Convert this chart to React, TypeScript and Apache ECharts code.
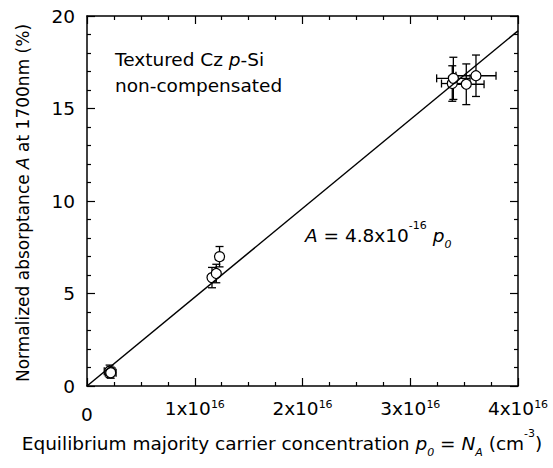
import React, { useEffect, useRef } from 'react';
import * as echarts from 'echarts';

// Equilibrium majority carrier concentration p0 (units of 1e16 cm^-3)
const pValues = [0.21, 0.22, 1.16, 1.2, 1.23, 3.39, 3.4, 3.52, 3.61];
// Normalized absorptance A at 1700 nm (%)
const aValues = [0.8, 0.72, 5.86, 6.08, 6.99, 16.35, 16.63, 16.31, 16.77];
const pErrors = [0.05, 0.05, 0.03, 0.03, 0.03, 0.1, 0.155, 0.165, 0.186];
const aErrors = [0.33, 0.3, 0.55, 0.5, 0.55, 0.96, 1.14, 1.1, 1.12];
// Linear fit A = 4.8e-16 * p0
const fitP = [0, 4];
const fitA = [0, 19.2];
const xTicks = [0, 1, 2, 3, 4];
const xExponent = '16';
const yTicks = [0, 5, 10, 15, 20];

const FONT = 'DejaVu Sans';
const FS = 18.5;

export default function App() {
  const ref = useRef<HTMLDivElement>(null);
  useEffect(() => {
    if (!ref.current) return;
    const chart = echarts.init(ref.current, null, { renderer: 'svg' });
    const points = pValues.map((p, i) => [p, aValues[i]]);
    const errData = pValues.map((p, i) => [p, aValues[i], pErrors[i], aErrors[i]]);
    const axisLine = { show: true, onZero: false, lineStyle: { color: '#000', width: 1.5 } };
    const common = {
      axisLine,
      splitLine: { show: false },
    };
    const xBase = {
      type: 'value',
      min: xTicks[0],
      max: xTicks[xTicks.length - 1],
      interval: 1,
      ...common,
      axisTick: { show: true, inside: true, length: 8, lineStyle: { color: '#000', width: 1.2 } },
      minorTick: { show: true, splitNumber: 4, length: 4, lineStyle: { color: '#000', width: 1.2 } },
      minorSplitLine: { show: false },
    };
    const yBase = {
      type: 'value',
      min: yTicks[0],
      max: yTicks[yTicks.length - 1],
      interval: 5,
      ...common,
      axisTick: { show: true, inside: true, length: 8, lineStyle: { color: '#000', width: 1.2 } },
      minorTick: { show: true, splitNumber: 5, length: 4, lineStyle: { color: '#000', width: 1.2 } },
      minorSplitLine: { show: false },
    };
    chart.setOption({
      animation: false,
      grid: { left: 87, top: 16, width: 431, height: 370, containLabel: false },
      xAxis: [
        {
          ...xBase,
          position: 'bottom',
          axisLabel: {
            show: true,
            margin: 13,
            color: '#000',
            fontFamily: FONT,
            fontSize: FS,
            formatter: (v: number) => (v === 0 ? '{z|0}' : `{b|${v}x10}{s|${xExponent}}`),
            rich: {
              z: { fontFamily: FONT, fontSize: FS, lineHeight: 30, color: '#000' },
              b: { fontFamily: FONT, fontSize: FS, lineHeight: 17, verticalAlign: 'top', color: '#000' },
              s: { fontFamily: FONT, fontSize: 11, lineHeight: 6, verticalAlign: 'top', color: '#000' },
            },
          },
        },
        { ...xBase, position: 'top', axisLabel: { show: false } },
      ],
      yAxis: [
        {
          ...yBase,
          position: 'left',
          axisLabel: { show: true, margin: 12, color: '#000', fontFamily: FONT, fontSize: FS },
        },
        { ...yBase, position: 'right', axisLabel: { show: false } },
      ],
      series: [
        {
          type: 'custom',
          xAxisIndex: 0,
          yAxisIndex: 0,
          z: 2,
          data: errData,
          encode: { x: 0, y: 1 },
          renderItem: (params: any, api: any) => {
            const x = api.value(0);
            const y = api.value(1);
            const ex = api.value(2);
            const ey = api.value(3);
            const top = api.coord([x, y + ey]);
            const bot = api.coord([x, y - ey]);
            const left = api.coord([x - ex, y]);
            const right = api.coord([x + ex, y]);
            const c = 4;
            const style = { stroke: '#000', lineWidth: 1.3, fill: 'none' };
            const ln = (x1: number, y1: number, x2: number, y2: number) => ({
              type: 'line',
              shape: { x1, y1, x2, y2 },
              style,
            });
            return {
              type: 'group',
              children: [
                ln(top[0], top[1], bot[0], bot[1]),
                ln(top[0] - c, top[1], top[0] + c, top[1]),
                ln(bot[0] - c, bot[1], bot[0] + c, bot[1]),
                ln(left[0], left[1], right[0], right[1]),
                ln(left[0], left[1] - c, left[0], left[1] + c),
                ln(right[0], right[1] - c, right[0], right[1] + c),
              ],
            };
          },
        },
        {
          type: 'scatter',
          z: 3,
          symbol: 'circle',
          symbolSize: 10,
          data: points,
          itemStyle: { color: '#fff', borderColor: '#000', borderWidth: 1.2, opacity: 1 },
        },
        {
          type: 'line',
          z: 4,
          data: fitP.map((p, i) => [p, fitA[i]]),
          symbol: 'none',
          lineStyle: { color: '#000', width: 1.5 },
        },
      ],
      graphic: [
        {
          type: 'text',
          x: 115,
          y: 59.3,
          z: 10,
          style: {
            text: '{n|Textured Cz }{i|p}{n|-Si}',
            rich: {
              n: { fontFamily: FONT, fontSize: FS, fill: '#000' },
              i: { fontFamily: FONT, fontSize: FS, fontStyle: 'italic', fill: '#000' },
            },
            fontFamily: FONT,
            fontSize: FS,
            fill: '#000',
            align: 'left',
            verticalAlign: 'middle',
          },
        },
        {
          type: 'text',
          x: 115,
          y: 85.3,
          z: 10,
          style: {
            text: 'non-compensated',
            fontFamily: FONT,
            fontSize: FS,
            fill: '#000',
            align: 'left',
            verticalAlign: 'middle',
          },
        },
        {
          type: 'text',
          x: 305,
          y: 235,
          z: 10,
          style: {
            text: '{i|A}{n| = 4.8x10}{s|-16}{n| }{i|p}{b|0}',
            rich: {
              n: { fontFamily: FONT, fontSize: FS, lineHeight: 30, fill: '#000' },
              i: { fontFamily: FONT, fontSize: FS, lineHeight: 30, fontStyle: 'italic', fill: '#000' },
              s: { fontFamily: FONT, fontSize: 11, lineHeight: 12, verticalAlign: 'top', fill: '#000' },
              b: { fontFamily: FONT, fontSize: 11, lineHeight: 21, verticalAlign: 'bottom', fontStyle: 'italic', fill: '#000' },
            },
            fontFamily: FONT,
            fontSize: FS,
            fill: '#000',
            align: 'left',
            verticalAlign: 'middle',
          },
        },
        {
          type: 'text',
          x: 282,
          y: 443,
          z: 10,
          style: {
            text: '{n|Equilibrium majority carrier concentration }{i|p}{b|0}{n| = }{i|N}{b|A}{n| (cm}{s|-3}{n|)}',
            rich: {
              n: { fontFamily: FONT, fontSize: FS, lineHeight: 30, fill: '#000' },
              i: { fontFamily: FONT, fontSize: FS, lineHeight: 30, fontStyle: 'italic', fill: '#000' },
              s: { fontFamily: FONT, fontSize: 11, lineHeight: 12, verticalAlign: 'top', fill: '#000' },
              b: { fontFamily: FONT, fontSize: 11, lineHeight: 21, verticalAlign: 'bottom', fontStyle: 'italic', fill: '#000' },
            },
            fontFamily: FONT,
            fontSize: FS,
            fill: '#000',
            align: 'center',
            verticalAlign: 'middle',
          },
        },
        {
          type: 'text',
          x: 22.5,
          y: 203,
          rotation: Math.PI / 2,
          z: 10,
          style: {
            text: '{n|Normalized absorptance }{i|A}{n| at 1700nm (%)}',
            rich: {
              n: { fontFamily: FONT, fontSize: 17, fill: '#000' },
              i: { fontFamily: FONT, fontSize: 17, fontStyle: 'italic', fill: '#000' },
            },
            fontFamily: FONT,
            fontSize: 17,
            fill: '#000',
            align: 'center',
            verticalAlign: 'middle',
          },
        },
      ],
    });
    return () => chart.dispose();
  }, []);
  return (
    <div
      ref={ref}
      style={{ position: 'fixed', left: 0, top: 0, width: 553, height: 468, background: '#fff' }}
    />
  );
}
